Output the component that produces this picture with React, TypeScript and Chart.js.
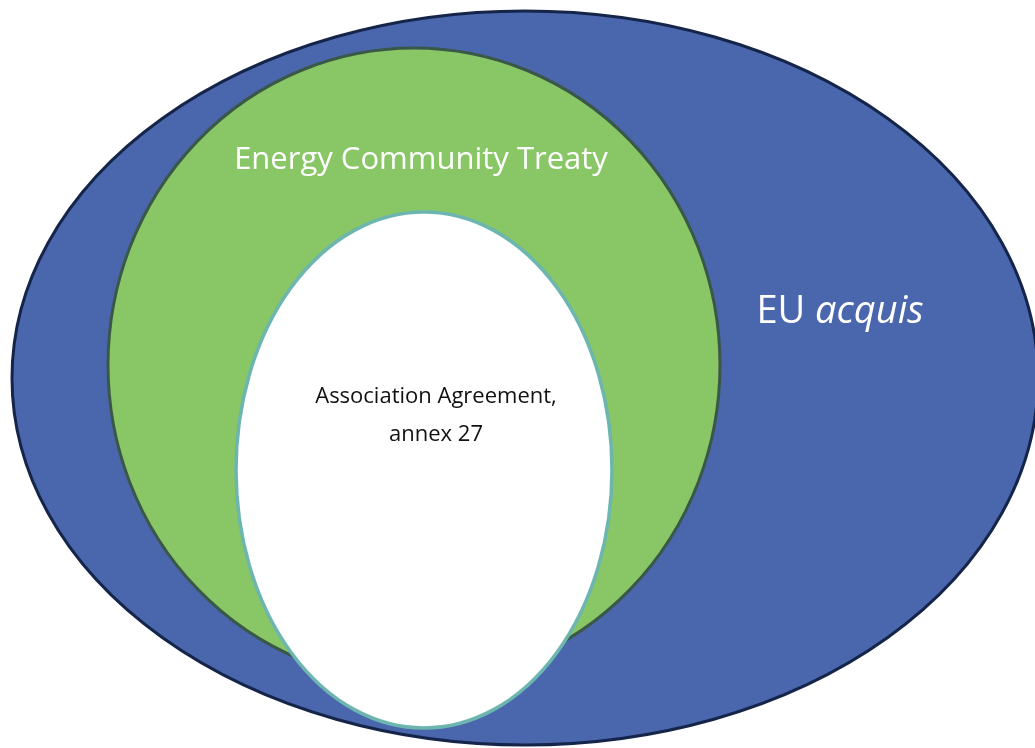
import React, { useEffect, useRef } from "react";
import { Chart, registerables } from "chart.js";

Chart.register(...registerables);

// Nested sets (outer to inner)
const setNames = ["EU acquis", "Energy Community Treaty", "Association Agreement, annex 27"];
const centerX = [525, 414, 424];
const centerY = [378, 365, 470];
const radiusX = [513, 306, 188];
const radiusY = [367, 317, 258];

// Label anchor points (data coordinates)
const labelX = [840, 421, 436];
const labelY = [312, 160, 416];

const fills = ["#4A66AD", "#88C666", "#FFFFFF"];
const strokes = ["#15254A", "#3A5848", "#6DB6B0"];
const strokeWidths = [3, 3, 3.5];

const FONT = "'Open Sans', Lato, sans-serif";

const ellipsePlugin = {
  id: "nestedEllipses",
  afterDatasetsDraw(chart: any) {
    const { ctx, scales } = chart;
    const xs = scales.x;
    const ys = scales.y;
    ctx.save();
    for (let i = 0; i < setNames.length; i++) {
      const px = xs.getPixelForValue(centerX[i]);
      const py = ys.getPixelForValue(centerY[i]);
      const rx = Math.abs(xs.getPixelForValue(centerX[i] + radiusX[i]) - px);
      const ry = Math.abs(ys.getPixelForValue(centerY[i] + radiusY[i]) - py);
      ctx.beginPath();
      ctx.ellipse(px, py, rx, ry, 0, 0, Math.PI * 2);
      ctx.fillStyle = fills[i];
      ctx.fill();
      ctx.lineWidth = strokeWidths[i];
      ctx.strokeStyle = strokes[i];
      ctx.stroke();
    }
    ctx.textBaseline = "middle";
    // EU acquis
    {
      const px = xs.getPixelForValue(labelX[0]);
      const py = ys.getPixelForValue(labelY[0]);
      ctx.fillStyle = "#FFFFFF";
      const a = "EU ";
      const b = "acquis";
      ctx.font = `38px ${FONT}`;
      const wa = ctx.measureText(a).width;
      ctx.font = `italic 38px ${FONT}`;
      const wb = ctx.measureText(b).width;
      const start = px - (wa + wb) / 2;
      ctx.textAlign = "left";
      ctx.font = `38px ${FONT}`;
      ctx.fillText(a, start, py);
      ctx.font = `italic 38px ${FONT}`;
      ctx.fillText(b, start + wa, py);
    }
    ctx.textAlign = "center";
    // Energy Community Treaty
    {
      const px = xs.getPixelForValue(labelX[1]);
      const py = ys.getPixelForValue(labelY[1]);
      ctx.fillStyle = "#FFFFFF";
      ctx.font = `31px ${FONT}`;
      ctx.fillText(setNames[1], px, py);
    }
    // Association Agreement
    {
      const px = xs.getPixelForValue(labelX[2]);
      const py = ys.getPixelForValue(labelY[2]);
      ctx.fillStyle = "#111111";
      ctx.font = `22px ${FONT}`;
      ctx.fillText("Association Agreement,", px, py - 19);
      ctx.fillText("annex 27", px, py + 19);
    }
    ctx.restore();
  },
};

export default function App() {
  const ref = useRef<HTMLCanvasElement | null>(null);
  useEffect(() => {
    if (!ref.current) return;
    const chart = new Chart(ref.current, {
      type: "scatter",
      data: {
        datasets: [
          {
            label: "centres",
            data: centerX.map((x, i) => ({ x, y: centerY[i] })),
            pointRadius: 0,
            pointHoverRadius: 0,
          },
        ],
      },
      options: {
        animation: false,
        responsive: false,
        maintainAspectRatio: false,
        layout: { padding: 0 },
        plugins: { legend: { display: false }, tooltip: { enabled: false } },
        events: [],
        scales: {
          x: { type: "linear", min: 0, max: 1035, display: false },
          y: { type: "linear", min: 0, max: 748, reverse: true, display: false },
        },
      },
      plugins: [ellipsePlugin],
    });
    return () => chart.destroy();
  }, []);
  return (
    <div style={{ position: "absolute", left: 0, top: 0, width: 1035, height: 748, background: "#fff" }}>
      <canvas ref={ref} width={1035} height={748} style={{ display: "block" }} />
    </div>
  );
}
